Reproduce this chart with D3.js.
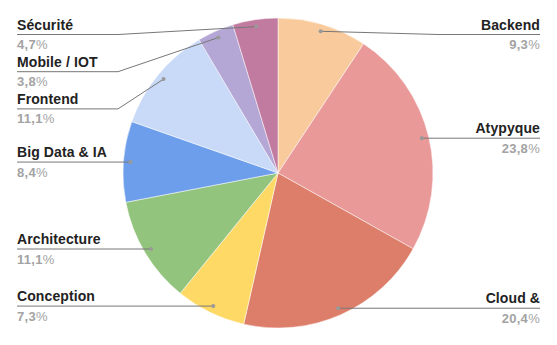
<!DOCTYPE html>
<html>
<head>
<meta charset="utf-8">
<script src="https://cdn.jsdelivr.net/npm/d3@7"></script>
<style>
  body { margin: 0; background: #fff; }
  text { font-family: "Liberation Sans", Arial, sans-serif; }
</style>
</head>
<body>
<svg id="chart"></svg>
<script>
// data, clockwise from 12 o'clock
const categories = ["Backend", "Atypyque", "Cloud &", "Conception", "Architecture",
                    "Big Data & IA", "Frontend", "Mobile / IOT", "Sécurité"];
const values     = [9.3, 23.8, 20.4, 7.3, 11.1, 8.4, 11.1, 3.8, 4.7];
const pctLabels  = ["9,3", "23,8", "20,4", "7,3", "11,1", "8,4", "11,1", "3,8", "4,7"];
const colors     = ["#f9cb9c", "#ea9999", "#dd7e6b", "#ffd966", "#93c47d",
                    "#6d9eeb", "#c9daf8", "#b4a7d6", "#c27ba0"];

const width = 557, height = 345;
const cx = 278, cy = 173, radius = 155;
const dotR = 148;         // where the leader lines start
const elbowDx = 160;      // x offset of the bend
const leftX = 17, rightX = 540;
const minGap = 37.2, topY = 34.5;

const svg = d3.select("#chart")
  .attr("width", width)
  .attr("height", height);

const g = svg.append("g").attr("transform", `translate(${cx},${cy})`);

const pie = d3.pie().sort(null).value(d => d.value);
const arc = d3.arc().innerRadius(0).outerRadius(radius);

const data = categories.map((c, i) => ({name: c, value: values[i], pct: pctLabels[i], color: colors[i]}));
const arcs = pie(data);

g.selectAll("path.slice")
  .data(arcs)
  .enter().append("path")
  .attr("class", "slice")
  .attr("d", arc)
  .attr("fill", d => d.data.color)
  .attr("stroke", "#fff")
  .attr("stroke-width", 0.5);

// anchor points for leader lines
arcs.forEach(a => {
  const mid = (a.startAngle + a.endAngle) / 2;
  a.px = cx + dotR * Math.sin(mid);
  a.py = cy - dotR * Math.cos(mid);
  a.side = Math.sin(mid) >= 0 ? "right" : "left";
});

// push labels apart on each side
["left", "right"].forEach(side => {
  const list = arcs.filter(a => a.side === side).sort((a, b) => a.py - b.py);
  let prev = -Infinity;
  list.forEach(a => {
    let y = Math.max(a.py, topY);
    if (y < prev + minGap) y = prev + minGap;
    a.ly = y;
    prev = y;
  });
});

const labels = svg.append("g");

labels.selectAll("polyline")
  .data(arcs)
  .enter().append("polyline")
  .attr("fill", "none")
  .attr("stroke", "#777")
  .attr("stroke-width", 1)
  .attr("points", d => {
    const endX = d.side === "right" ? rightX : leftX;
    const bendX = d.side === "right" ? cx + elbowDx : cx - elbowDx;
    if (Math.abs(d.ly - d.py) < 0.5) return `${d.px},${d.py} ${endX},${d.ly}`;
    return `${d.px},${d.py} ${bendX},${d.ly} ${endX},${d.ly}`;
  });

labels.selectAll("circle")
  .data(arcs)
  .enter().append("circle")
  .attr("cx", d => d.px)
  .attr("cy", d => d.py)
  .attr("r", 2)
  .attr("fill", "#999");

labels.selectAll("text.name")
  .data(arcs)
  .enter().append("text")
  .attr("class", "name")
  .attr("x", d => d.side === "right" ? rightX : leftX)
  .attr("y", d => d.ly - 5)
  .attr("text-anchor", d => d.side === "right" ? "end" : "start")
  .attr("font-size", 14)
  .attr("font-weight", "bold")
  .attr("letter-spacing", 0.1)
  .attr("fill", "#222")
  .text(d => d.data.name);

const pct = labels.selectAll("text.pct")
  .data(arcs)
  .enter().append("text")
  .attr("class", "pct")
  .attr("x", d => d.side === "right" ? rightX : leftX)
  .attr("y", d => d.ly + 14.5)
  .attr("text-anchor", d => d.side === "right" ? "end" : "start")
  .attr("font-size", 13)
  .attr("letter-spacing", 0.3)
  .attr("fill", "#a3a3a3");
pct.append("tspan").attr("font-weight", "bold").text(d => d.data.pct);
pct.append("tspan").text("%");
</script>
</body>
</html>
